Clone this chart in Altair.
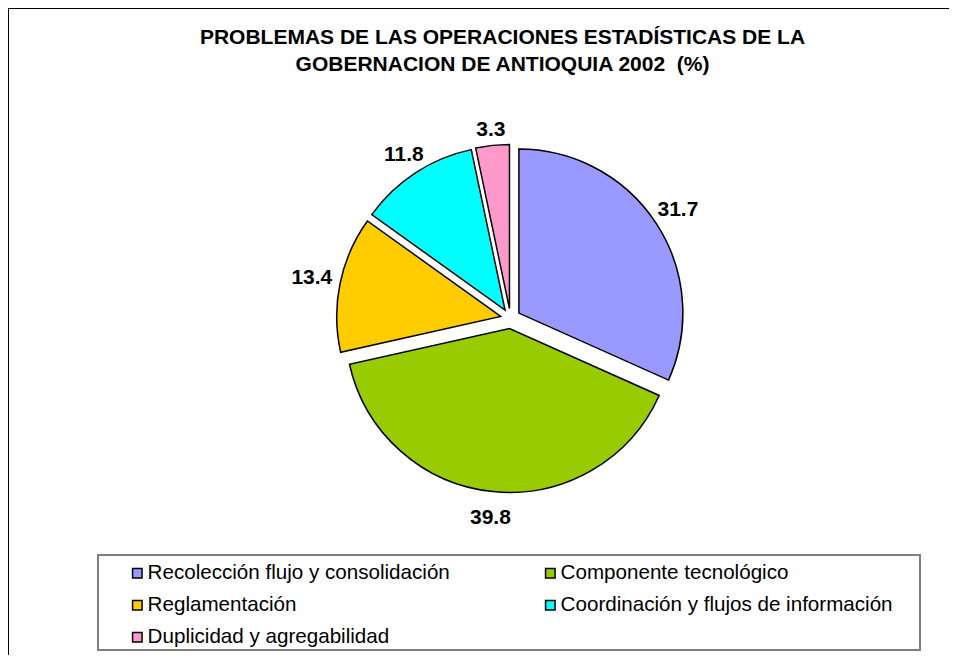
import altair as alt
import pandas as pd

# ---- data ----
categorias = [
    "Recolección flujo y consolidación",
    "Componente tecnológico",
    "Reglamentación",
    "Coordinación y flujos de información",
    "Duplicidad y agregabilidad",
]
valores = [31.7, 39.8, 13.4, 11.8, 3.3]
colores = ["#9999FF", "#99CC00", "#FFCC00", "#00FFFF", "#FF99CC"]
# legend entries are laid out column by column: this order gives the reference's rows
orden_leyenda = [0, 2, 4, 1, 3]
titulo = ["PROBLEMAS DE LAS OPERACIONES ESTADÍSTICAS DE LA",
          "GOBERNACION DE ANTIOQUIA 2002 \u00a0(%)"]

# ---- layout constants (pixels, chart space) ----
W, H = 941, 647
CX, CY = 502.5, 310.5      # pie centre
RADIO = 164                # pie radius
EXPLOSION = 10             # slice explosion distance
FONT = "Liberation Sans"

df = pd.DataFrame({"categoria": categorias, "valor": valores,
                   "orden": list(range(len(valores)))})

dominio = [categorias[i] for i in orden_leyenda]
rango = [colores[i] for i in orden_leyenda]

base = (
    alt.Chart(df)
    .transform_window(fin="sum(valor)", sort=[alt.SortField("orden")])
    .transform_joinaggregate(total="sum(valor)")
    .transform_calculate(inicio="datum.fin - datum.valor")
    .transform_calculate(medio="(datum.inicio + datum.valor / 2) / datum.total * 2 * PI")
    .transform_calculate(
        dist="194 + 10 * abs(sin(datum.medio)) - 5.3 * cos(datum.medio)")
    .transform_calculate(
        px=f"{CX} + {EXPLOSION} * sin(datum.medio)",
        py=f"{CY} - {EXPLOSION} * cos(datum.medio)",
        lx=f"{CX} + datum.dist * sin(datum.medio)",
        ly=f"{CY} - datum.dist * cos(datum.medio)",
    )
)

arcos = base.mark_arc(radius=RADIO, stroke="black", strokeWidth=1.5).encode(
    theta=alt.Theta("inicio:Q", scale=alt.Scale(domain=[0, 100]), stack=False),
    theta2="fin:Q",
    x=alt.X("px:Q", scale=None, axis=None),
    y=alt.Y("py:Q", scale=None, axis=None),
    color=alt.Color(
        "categoria:N",
        scale=alt.Scale(domain=dominio, range=rango),
        legend=alt.Legend(
            title=None, orient="none", legendX=119, legendY=555,
            columns=2, columnPadding=90, rowPadding=11,
            symbolType="square", symbolSize=90, symbolStrokeColor="black",
            symbolStrokeWidth=1.5, symbolOpacity=1, labelOffset=0,
            labelFont=FONT, labelFontSize=20.6, labelColor="black",
            labelLimit=600, padding=0,
        ),
    ),
    order=alt.Order("orden:Q"),
)

etiquetas = base.mark_text(font=FONT, fontSize=21, fontWeight="bold",
                           color="black").encode(
    x=alt.X("lx:Q", scale=None, axis=None),
    y=alt.Y("ly:Q", scale=None, axis=None),
    text=alt.Text("valor:Q", format=".1f"),
)

uno = pd.DataFrame({"k": [0]})
marco_izq = alt.Chart(uno).mark_rule(color="black", strokeWidth=1).encode(
    x=alt.value(0.5), y=alt.value(0), y2=alt.value(H))
marco_sup = alt.Chart(uno).mark_rule(color="black", strokeWidth=1).encode(
    y=alt.value(0.5), x=alt.value(0), x2=alt.value(W))
caja_leyenda = alt.Chart(uno).mark_rect(fill="white", stroke="#808080",
                                        strokeWidth=2).encode(
    x=alt.value(90), x2=alt.value(912), y=alt.value(547), y2=alt.value(642))

chart = (
    alt.layer(marco_izq, marco_sup, caja_leyenda, arcos, etiquetas)
    .properties(
        width=W, height=H,
        autosize=alt.AutoSizeParams(type="none"),
        padding=0,
        title=alt.TitleParams(
            text=titulo, font=FONT, fontSize=21, fontWeight="bold",
            color="black", anchor="middle", frame="group", orient="top",
            baseline="top", offset=0, dx=24, dy=67, lineHeight=27,
        ),
    )
    .configure_view(stroke=None)
)

chart.save("out.html", embed_options={"renderer": "svg", "actions": False})
